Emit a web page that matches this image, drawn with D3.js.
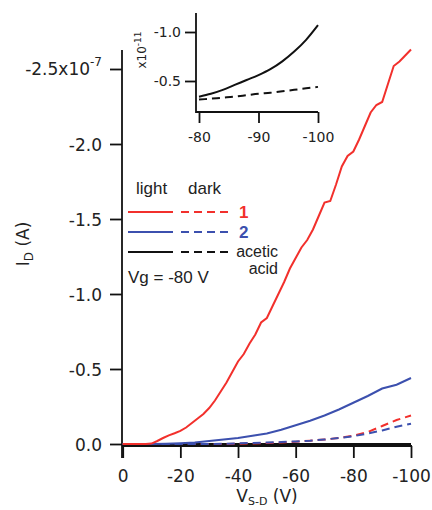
<!DOCTYPE html>
<html>
<head>
<meta charset="utf-8">
<script src="https://cdn.jsdelivr.net/npm/d3@7"></script>
<style>
  body { margin: 0; background: #fff; }
  svg { display: block; }
  .tick text { fill: #222; }
</style>
</head>
<body>
<svg id="chart" width="432" height="510"></svg>
<script>
// sweep voltage (V) for sample 1 under light, 2 V steps
const vFine = [0, -2, -4, -6, -8, -10, -12, -14, -16, -18, -20, -22, -24, -26, -28, -30,
  -32, -34, -36, -38, -40, -42, -44, -46, -48, -50, -52, -54, -56, -58, -60, -62, -64,
  -66, -68, -70, -72, -74, -76, -78, -80, -82, -84, -86, -88, -90, -92, -94, -96, -98, -100]
// drain current, units of 1e-7 A
const red1Light = [0, 0, 0, 0, 0, -0.003, -0.02, -0.04, -0.058, -0.072, -0.087, -0.11, -0.14,
  -0.17, -0.2, -0.24, -0.29, -0.35, -0.41, -0.48, -0.55, -0.6, -0.67, -0.73, -0.81, -0.84,
  -0.92, -1.0, -1.08, -1.17, -1.24, -1.31, -1.36, -1.43, -1.52, -1.61, -1.62, -1.73, -1.85,
  -1.92, -1.95, -2.03, -2.12, -2.21, -2.26, -2.28, -2.4, -2.52, -2.55, -2.59, -2.63]

// 5 V steps for the other curves
const vCoarse = [0, -5, -10, -15, -20, -25, -30, -35, -40, -45, -50, -55, -60, -65, -70,
  -75, -80, -85, -90, -95, -100]
const blue2Light = [0, 0, 0, -0.002, -0.005, -0.01, -0.02, -0.03, -0.04, -0.055, -0.07,
  -0.095, -0.125, -0.155, -0.19, -0.23, -0.275, -0.32, -0.37, -0.395, -0.44]
const red1Dark = [0, 0, 0, 0, 0, 0, 0, 0, -0.002, -0.004, -0.006, -0.01, -0.015, -0.022,
  -0.03, -0.04, -0.055, -0.08, -0.12, -0.16, -0.19]
const blue2Dark = [0, 0, 0, 0, 0, 0, 0, -0.002, -0.004, -0.007, -0.01, -0.013, -0.017,
  -0.022, -0.03, -0.04, -0.052, -0.07, -0.09, -0.115, -0.135]
// acetic acid, units of 1e-11 A
const aceticLight = [0, 0, -0.01, -0.02, -0.03, -0.04, -0.05, -0.07, -0.09, -0.11, -0.13,
  -0.16, -0.19, -0.22, -0.26, -0.3, -0.34, -0.46, -0.56, -0.8, -1.07]
const aceticDark = [0, 0, -0.01, -0.02, -0.03, -0.04, -0.05, -0.06, -0.08, -0.1, -0.12,
  -0.14, -0.16, -0.19, -0.22, -0.26, -0.31, -0.34, -0.37, -0.4, -0.44]

// inset (acetic acid, -80 .. -100 V)
const vInset = [-80, -82, -84, -86, -88, -90, -92, -94, -96, -98, -100]
const insetLight = [-0.34, -0.37, -0.41, -0.46, -0.51, -0.56, -0.62, -0.7, -0.8, -0.92, -1.07]
const insetDark = [-0.31, -0.32, -0.33, -0.34, -0.355, -0.37, -0.38, -0.395, -0.41, -0.425, -0.44]

const yTicks = [0, -0.5, -1.0, -1.5, -2.0, -2.5]
const xTicks = [0, -20, -40, -60, -80, -100]
const insetYTicks = [-0.5, -1.0]
const insetXTicks = [-80, -90, -100]

const RED = '#f2302c'
const BLUE = '#3c50ae'
const tickFont = "'DejaVu Sans', sans-serif"
const legendFont = "'Liberation Sans', Arial, sans-serif"

let svg = d3.select('#chart')

let x = d3.scaleLinear().domain([0, -100]).range([122.7, 411])
let y = d3.scaleLinear().domain([0, -2.5]).range([444, 69])

// y axis
let yAxis = svg.append('g')
  .attr('transform', 'translate(122,0)')
  .call(d3.axisLeft(y).tickValues(yTicks).tickSize(12).tickSizeOuter(0)
    .tickFormat(d => d === -2.5 ? '' : d.toFixed(1)))
yAxis.select('.domain').remove()
yAxis.selectAll('.tick line').attr('stroke', '#111').attr('stroke-width', 1.8)
yAxis.selectAll('.tick text')
  .attr('x', -20).attr('dy', '0.36em')
  .style('font-family', tickFont).style('font-size', '17px')

let topLabel = svg.append('text')
  .attr('x', 102).attr('y', y(-2.5) + 6)
  .attr('text-anchor', 'end')
  .style('font-family', tickFont).style('font-size', '17px').attr('fill', '#222')
topLabel.append('tspan').text('-2.5x10')
topLabel.append('tspan').attr('dy', -9).style('font-size', '12px').text('-7')

svg.append('line')
  .attr('x1', 122).attr('x2', 122).attr('y1', 50).attr('y2', 458)
  .attr('stroke', '#111').attr('stroke-width', 1.8)

// x axis
let xAxis = svg.append('g')
  .attr('transform', 'translate(0,446)')
  .call(d3.axisBottom(x).tickValues(xTicks).tickSize(12).tickSizeOuter(0)
    .tickFormat(d => String(d)))
xAxis.select('.domain').remove()
xAxis.selectAll('.tick line').attr('stroke', '#111').attr('stroke-width', 1.8)
xAxis.selectAll('.tick text')
  .attr('y', 24).attr('dy', '0.71em')
  .style('font-family', tickFont).style('font-size', '17px')

svg.append('line')
  .attr('x1', 122).attr('x2', 412).attr('y1', 446).attr('y2', 446)
  .attr('stroke', '#111').attr('stroke-width', 1.8)

// axis titles
let xTitle = svg.append('text')
  .attr('x', 267).attr('y', 502).attr('text-anchor', 'middle')
  .style('font-family', tickFont).style('font-size', '17px').attr('fill', '#222')
xTitle.append('tspan').text('V')
xTitle.append('tspan').attr('dy', 3).style('font-size', '11px').text('S-D')
xTitle.append('tspan').attr('dy', -3).text(' (V)')

let yTitle = svg.append('text')
  .attr('transform', 'translate(29,244) rotate(-90)')
  .attr('text-anchor', 'middle')
  .style('font-family', tickFont).style('font-size', '17px').attr('fill', '#222')
yTitle.append('tspan').text('I')
yTitle.append('tspan').attr('dy', 4).style('font-size', '12px').text('D')
yTitle.append('tspan').attr('dy', -4).text(' (A)')

// curves
let line = d3.line().x(d => x(d[0])).y(d => y(d[1]))
const series = [
  { v: vCoarse, i: aceticDark.map(d => d * 1e-4), color: '#111', dash: '8,5' },
  { v: vCoarse, i: aceticLight.map(d => d * 1e-4), color: '#111', dash: null },
  { v: vCoarse, i: red1Dark, color: RED, dash: '8,5' },
  { v: vCoarse, i: blue2Dark, color: BLUE, dash: '8,5' },
  { v: vCoarse, i: blue2Light, color: BLUE, dash: null },
  { v: vFine, i: red1Light, color: RED, dash: null }
]
svg.append('g').selectAll('path')
  .data(series)
  .enter().append('path')
  .attr('d', s => line(d3.zip(s.v, s.i)))
  .attr('fill', 'none')
  .attr('stroke', s => s.color)
  .attr('stroke-width', 2)
  .attr('stroke-dasharray', s => s.dash)

// legend
let legend = svg.append('g').style('font-family', legendFont).style('font-size', '17px')
legend.append('text').attr('x', 136).attr('y', 194).attr('fill', '#222').text('light')
legend.append('text').attr('x', 188).attr('y', 194).attr('fill', '#222').text('dark')
const legendRows = [
  { color: RED, label: '1', y: 212 },
  { color: BLUE, label: '2', y: 232 },
  { color: '#111', label: 'acetic', y: 252 }
]
legendRows.forEach(r => {
  legend.append('line').attr('x1', 128).attr('x2', 173).attr('y1', r.y).attr('y2', r.y)
    .attr('stroke', r.color).attr('stroke-width', 2)
  legend.append('line').attr('x1', 181).attr('x2', 229).attr('y1', r.y).attr('y2', r.y)
    .attr('stroke', r.color).attr('stroke-width', 2).attr('stroke-dasharray', '8,5')
})
legend.append('text').attr('x', 239).attr('y', 218).attr('fill', RED)
  .style('font-weight', 'bold').text('1')
legend.append('text').attr('x', 239).attr('y', 238).attr('fill', BLUE)
  .style('font-weight', 'bold').text('2')
legend.append('text').attr('x', 278).attr('y', 257).attr('text-anchor', 'end')
  .style('font-size', '16px').attr('fill', '#222').text('acetic')
legend.append('text').attr('x', 278).attr('y', 274).attr('text-anchor', 'end')
  .style('font-size', '16px').attr('fill', '#222').text('acid')
legend.append('text').attr('x', 128).attr('y', 283).attr('fill', '#222').text('Vg = -80 V')

// inset
let ix = d3.scaleLinear().domain([-80, -100]).range([199, 318])
let iy = d3.scaleLinear().domain([-0.5, -1.0]).range([81, 32])
let inset = svg.append('g')

let iyAxis = inset.append('g')
  .attr('transform', 'translate(196,0)')
  .call(d3.axisLeft(iy).tickValues(insetYTicks).tickSize(11).tickSizeOuter(0)
    .tickFormat(d => d.toFixed(1)))
iyAxis.select('.domain').remove()
iyAxis.selectAll('.tick line').attr('stroke', '#111').attr('stroke-width', 1.8)
iyAxis.selectAll('.tick text').attr('x', -15)
  .style('font-family', tickFont).style('font-size', '14px')

let ixAxis = inset.append('g')
  .attr('transform', 'translate(0,112)')
  .call(d3.axisBottom(ix).tickValues(insetXTicks).tickSize(11).tickSizeOuter(0)
    .tickFormat(d => String(d)))
ixAxis.select('.domain').remove()
ixAxis.selectAll('.tick line').attr('stroke', '#111').attr('stroke-width', 1.8)
ixAxis.selectAll('.tick text').attr('y', 20)
  .style('font-family', tickFont).style('font-size', '14px')

inset.append('path')
  .attr('d', `M196,13V112H318`)
  .attr('fill', 'none').attr('stroke', '#111').attr('stroke-width', 1.8)

let insetLabel = inset.append('text')
  .attr('transform', 'translate(146,50) rotate(-90)')
  .attr('text-anchor', 'middle')
  .style('font-family', tickFont).style('font-size', '12px').attr('fill', '#222')
insetLabel.append('tspan').text('x10')
insetLabel.append('tspan').attr('dy', -5).style('font-size', '9px').text('-11')

let iline = d3.line().x(d => ix(d[0])).y(d => iy(d[1])).curve(d3.curveMonotoneX)
inset.append('path').attr('d', iline(d3.zip(vInset, insetLight)))
  .attr('fill', 'none').attr('stroke', '#111').attr('stroke-width', 2)
inset.append('path').attr('d', iline(d3.zip(vInset, insetDark)))
  .attr('fill', 'none').attr('stroke', '#111').attr('stroke-width', 2)
  .attr('stroke-dasharray', '8,5')
</script>
</body>
</html>
